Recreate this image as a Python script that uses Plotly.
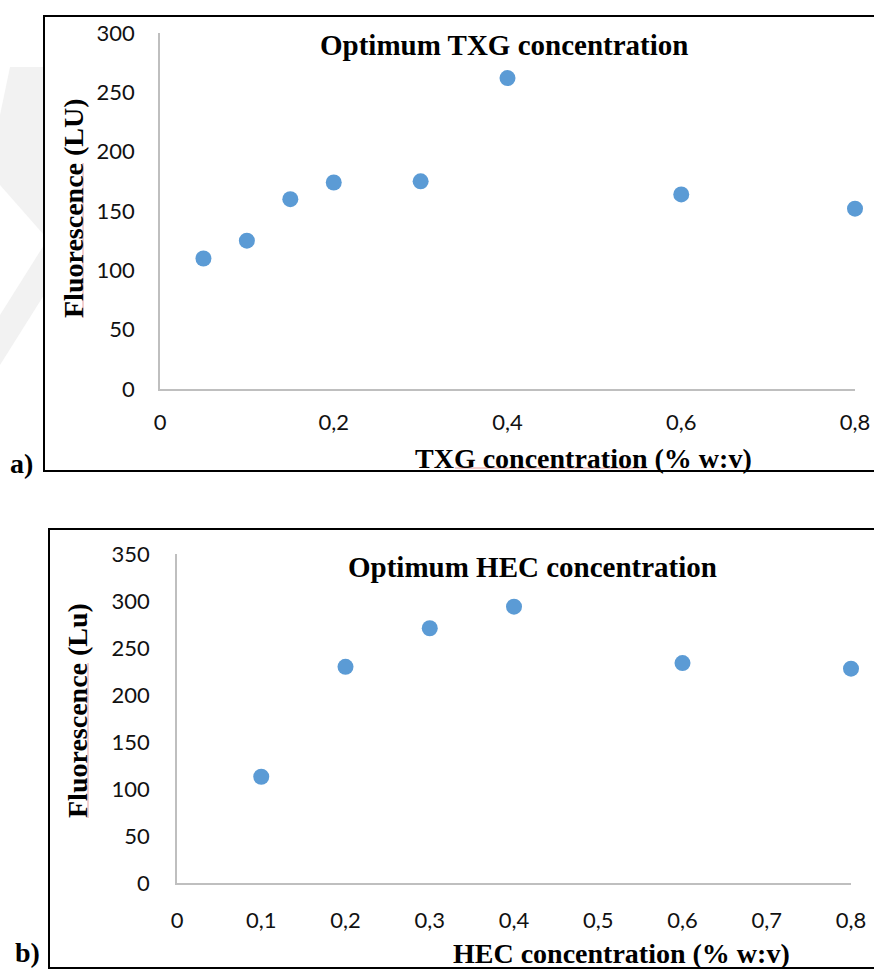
import plotly.graph_objects as go

W, H = 874, 971

# ---- data ----
txg_x = [0.05, 0.1, 0.15, 0.2, 0.3, 0.4, 0.6, 0.8]
txg_y = [110, 125, 160, 174, 175, 262, 164, 152]
hec_x = [0.1, 0.2, 0.3, 0.4, 0.6, 0.8]
hec_y = [113, 230, 271, 294, 234, 228]

txg_xticks = [0, 0.2, 0.4, 0.6, 0.8]
txg_xtext = ["0", "0,2", "0,4", "0,6", "0,8"]
txg_yticks = [0, 50, 100, 150, 200, 250, 300]
hec_xticks = [0, 0.1, 0.2, 0.3, 0.4, 0.5, 0.6, 0.7, 0.8]
hec_xtext = ["0", "0,1", "0,2", "0,3", "0,4", "0,5", "0,6", "0,7", "0,8"]
hec_yticks = [0, 50, 100, 150, 200, 250, 300, 350]


def px(x):
    return x / W


def py(y):
    return 1 - y / H


MARK = "#5B9BD5"
AX = "#BFBFBF"
TICKFONT = dict(family="Lato, Liberation Sans, sans-serif", size=22, color="#111111")
SERIF = "Liberation Serif, Times New Roman, serif"

fig = go.Figure()
fig.add_trace(go.Scatter(x=txg_x, y=txg_y, mode="markers", xaxis="x", yaxis="y",
                         marker=dict(color=MARK, size=16, line=dict(width=0)),
                         cliponaxis=False, showlegend=False))
fig.add_trace(go.Scatter(x=hec_x, y=hec_y, mode="markers", xaxis="x2", yaxis="y2",
                         marker=dict(color=MARK, size=16, line=dict(width=0)),
                         cliponaxis=False, showlegend=False))

common = dict(showgrid=False, zeroline=False, showline=True, linecolor=AX, linewidth=1.5,
              ticks="", tickfont=TICKFONT, fixedrange=True, automargin=False)

fig.update_layout(
    width=W, height=H,
    margin=dict(l=0, r=0, t=0, b=0, autoexpand=False),
    paper_bgcolor="white", plot_bgcolor="white",
    separators=", ",
    xaxis=dict(domain=[px(160), px(855)], range=[0, 0.8], tickvals=txg_xticks, ticktext=txg_xtext,
               anchor="y", ticklabelstandoff=13, **common),
    yaxis=dict(domain=[py(389), py(33)], range=[0, 300], tickvals=txg_yticks,
               anchor="x", ticklabelstandoff=19, **common),
    xaxis2=dict(domain=[px(177), px(851)], range=[0, 0.8], tickvals=hec_xticks, ticktext=hec_xtext,
                anchor="y2", ticklabelstandoff=17, **common),
    yaxis2=dict(domain=[py(883), py(554)], range=[0, 350], tickvals=hec_yticks,
                anchor="x2", ticklabelstandoff=21, **common),
)

shapes = []
# watermark (faint)
shapes.append(dict(type="path", xref="paper", yref="paper", layer="below",
                   path=f"M {px(10)} {py(67)} L {px(44)} {py(67)} L {px(44)} {py(235)} L {px(0)} {py(185)} L {px(0)} {py(115)} Z",
                   fillcolor="#F2F2F2", line=dict(width=0)))
shapes.append(dict(type="path", xref="paper", yref="paper", layer="below",
                   path=f"M {px(44)} {py(245)} L {px(44)} {py(295)} L {px(0)} {py(365)} L {px(0)} {py(315)} Z",
                   fillcolor="#F2F2F2", line=dict(width=0)))
# white panel backgrounds
shapes.append(dict(type="rect", xref="paper", yref="paper", layer="below",
                   x0=px(44), x1=1.05, y0=py(471), y1=py(16), fillcolor="white", line=dict(width=0)))
# frames
shapes.append(dict(type="rect", xref="paper", yref="paper",
                   x0=px(44), x1=1.05, y0=py(471), y1=py(16), line=dict(color="black", width=2)))
shapes.append(dict(type="rect", xref="paper", yref="paper",
                   x0=px(49), x1=1.05, y0=py(968), y1=py(529), line=dict(color="black", width=2)))
# spell-check underlines
red = "#E8A0A0"
shapes.append(dict(type="line", xref="paper", yref="paper", x0=px(83), x1=px(83), y0=py(163), y1=py(318),
                   line=dict(color=red, width=1)))
shapes.append(dict(type="line", xref="paper", yref="paper", x0=px(88), x1=px(88), y0=py(663), y1=py(818),
                   line=dict(color=red, width=1)))
shapes.append(dict(type="line", xref="paper", yref="paper", x0=px(455), x1=px(647), y0=py(468), y1=py(468),
                   line=dict(color=red, width=1)))
fig.update_layout(shapes=shapes)


def ann(text, x, y, size=28, angle=0):
    return dict(text=f"<b>{text}</b>", x=px(x), y=py(y), xref="paper", yref="paper",
                xanchor="center", yanchor="middle", showarrow=False, textangle=angle,
                font=dict(family=SERIF, size=size, color="black"))


fig.update_layout(annotations=[
    ann("Optimum TXG concentration", 504, 45, size=29),
    ann("Fluorescence (LU)", 73, 208, angle=-90),
    ann("TXG concentration (% w:v)", 583, 458),
    ann("a)", 21, 464),
    ann("Optimum HEC concentration", 532, 567, size=29),
    ann("Fluorescence (Lu)", 77, 711, angle=-90),
    ann("HEC concentration (% w:v)", 621, 953),
    ann("b)", 27, 952),
])

fig.write_html("out.html")
